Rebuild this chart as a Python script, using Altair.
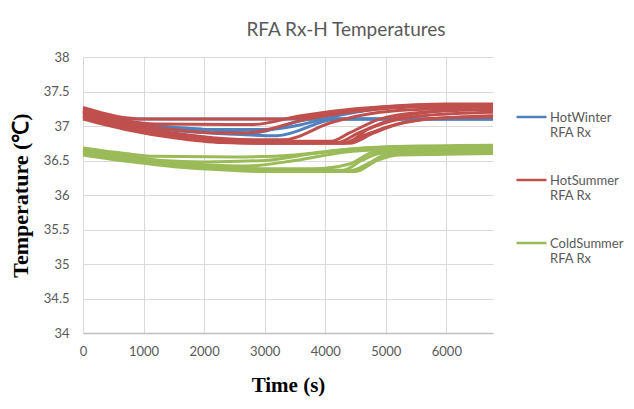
import altair as alt
import pandas as pd

series_names = ["HotWinter RFA Rx", "HotSummer RFA Rx", "ColdSummer RFA Rx"]
series_colors = ["#4F81BD", "#C0504D", "#9BBB59"]

x_ticks = [0, 1000, 2000, 3000, 4000, 5000, 6000]
y_ticks = [34, 34.5, 35, 35.5, 36, 36.5, 37, 37.5, 38]

# HotWinter RFA Rx traces (time s, temperature C)
hot_winter_t = [
    [0, 700, 1000, 3000, 5000, 6770],
    [0, 800, 2000, 2800, 3800, 5000, 6770],
    [0, 900, 2500, 3200, 4200, 5500, 6770],
    [0, 800, 2000, 3000, 4500, 5500, 6770],
]
hot_winter_v = [
    [37.2, 37.11, 37.1, 37.1, 37.1, 37.1],
    [37.21, 37.05, 36.95, 36.9, 37.1, 37.1, 37.1],
    [37.16, 37.0, 36.88, 36.86, 37.1, 37.1, 37.1],
    [37.22, 37.05, 36.95, 36.95, 37.2, 37.3, 37.3],
]

# HotSummer RFA Rx traces
hot_summer_t = [
    [0, 700, 1000, 3300, 4200, 5000, 6000, 6770],
    [0, 700, 1200, 2800, 3600, 4500, 5500, 6770],
    [0, 700, 1500, 2200, 2700, 3700, 4600, 5600, 6770],
    [0, 700, 1500, 2300, 3000, 3300, 4100, 4900, 5800, 6770],
    [0, 700, 1500, 2300, 3000, 4100, 4400, 4900, 5600, 6770],
    [0, 700, 1500, 2300, 3000, 4200, 4550, 5000, 5600, 6770],
    [0, 700, 1500, 2300, 3000, 4300, 4600, 5000, 5700, 6770],
    [0, 700, 1500, 2300, 3000, 4400, 4800, 5300, 6000, 6770],
    [0, 700, 1500, 2300, 3000, 4350, 4700, 5200, 5900, 6770],
]
hot_summer_v = [
    [37.27, 37.12, 37.1, 37.1, 37.2, 37.28, 37.32, 37.32],
    [37.25, 37.08, 37.03, 37.02, 37.15, 37.25, 37.3, 37.31],
    [37.23, 37.05, 36.95, 36.9, 36.9, 37.1, 37.22, 37.28, 37.29],
    [37.2, 37.02, 36.9, 36.82, 36.8, 36.8, 37.05, 37.2, 37.25, 37.27],
    [37.18, 37.0, 36.88, 36.8, 36.78, 36.78, 36.9, 37.1, 37.2, 37.24],
    [37.15, 36.98, 36.86, 36.78, 36.76, 36.76, 36.9, 37.05, 37.15, 37.2],
    [37.12, 36.96, 36.84, 36.77, 36.75, 36.75, 36.85, 36.98, 37.1, 37.15],
    [37.1, 36.95, 36.83, 36.76, 36.75, 36.75, 36.9, 37.05, 37.12, 37.13],
    [37.14, 36.97, 36.85, 36.77, 36.76, 36.76, 36.95, 37.12, 37.22, 37.26],
]

# ColdSummer RFA Rx traces
cold_summer_t = [
    [0, 700, 1200, 2500, 3500, 4200, 5000, 6770],
    [0, 700, 1300, 2000, 3000, 3800, 4500, 5500, 6770],
    [0, 800, 1500, 2000, 2700, 3500, 4300, 5000, 6770],
    [0, 800, 1500, 2200, 3000, 3800, 4400, 4800, 5500, 6770],
    [0, 800, 1500, 2200, 3000, 4300, 4600, 4900, 5500, 6770],
    [0, 800, 1500, 2200, 3000, 4400, 4700, 5000, 5600, 6770],
    [0, 800, 1500, 2200, 3000, 4500, 4850, 5200, 6000, 6770],
]
cold_summer_v = [
    [36.68, 36.6, 36.56, 36.55, 36.58, 36.65, 36.7, 36.72],
    [36.67, 36.57, 36.5, 36.48, 36.5, 36.6, 36.67, 36.7, 36.7],
    [36.65, 36.55, 36.47, 36.44, 36.42, 36.5, 36.62, 36.66, 36.68],
    [36.64, 36.53, 36.45, 36.41, 36.38, 36.38, 36.45, 36.62, 36.66, 36.66],
    [36.62, 36.51, 36.43, 36.39, 36.37, 36.36, 36.5, 36.6, 36.63, 36.64],
    [36.6, 36.5, 36.42, 36.38, 36.35, 36.35, 36.45, 36.58, 36.6, 36.61],
    [36.58, 36.48, 36.41, 36.37, 36.34, 36.34, 36.5, 36.58, 36.59, 36.6],
]

all_t = [hot_winter_t, hot_summer_t, cold_summer_t]
all_v = [hot_winter_v, hot_summer_v, cold_summer_v]

rows = []
for name, ts, vs in zip(series_names, all_t, all_v):
    for k, (tt, vv) in enumerate(zip(ts, vs)):
        for i, (t, v) in enumerate(zip(tt, vv)):
            rows.append({"series": name, "trace": f"{name}-{k}", "idx": i, "time": t, "temp": v})
df = pd.DataFrame(rows)

color = alt.Color(
    "series:N",
    scale=alt.Scale(domain=series_names, range=series_colors),
    legend=alt.Legend(
        title=None,
        orient="none",
        legendX=432,
        legendY=48,
        symbolType="M-1,-0.3L1,-0.3",
        symbolSize=900,
        symbolStrokeWidth=2.5,
        labelFont="Lato",
        labelFontSize=13,
        labelColor="#595959",
        labelBaseline="alphabetic",
        labelExpr="[split(datum.label, ' ')[0], 'RFA Rx']",
        rowPadding=28,
        labelOffset=2,
    ),
)

x = alt.X(
    "time:Q",
    scale=alt.Scale(domain=[0, 6770], nice=False, zero=False),
    axis=alt.Axis(
        values=x_ticks,
        format="d",
        title="Time (s)",
        titleFont="Liberation Serif",
        titleFontSize=21,
        titleFontWeight="bold",
        titleColor="#000000",
        titleX=205,
        titleY=52,
        titleBaseline="middle",
        labelFont="Lato",
        labelFontSize=13,
        labelColor="#595959",
        labelPadding=12,
        ticks=False,
        domainColor="#BFBFBF",
        domainWidth=1.5,
        gridColor="#D9D9D9",
        labelFlush=False,
    ),
)
y = alt.Y(
    "temp:Q",
    scale=alt.Scale(domain=[34, 38], nice=False, zero=False),
    axis=alt.Axis(
        values=y_ticks,
        format="~g",
        title="Temperature (\u2103)",
        titleFont="Liberation Serif",
        titleFontSize=22,
        titleFontWeight="bold",
        titleColor="#000000",
        titleX=-63,
        titleY=138,
        titleAngle=-90,
        titleAlign="center",
        titleBaseline="middle",
        labelFont="Lato",
        labelFontSize=13,
        labelColor="#595959",
        labelPadding=14,
        ticks=False,
        domainColor="#D9D9D9",
        gridColor="#D9D9D9",
    ),
)

layers = []
for name in series_names:
    layers.append(
        alt.Chart(df[df.series == name])
        .mark_line(strokeWidth=3, interpolate="monotone")
        .encode(x=x, y=y, color=color, detail="trace:N", order="idx:Q")
    )

chart = (
    alt.layer(*layers)
    .properties(
        width=410,
        height=276,
        title=alt.TitleParams(
            "RFA Rx-H Temperatures",
            font="Lato",
            fontSize=19,
            fontWeight="normal",
            color="#595959",
            dx=58,
            dy=4,
            offset=15,
        ),
        autosize=alt.AutoSizeParams(type="none"),
        padding={"left": 75, "top": 49, "right": 133, "bottom": 68},
    )
    .configure_view(stroke=None)
)

chart.save("out.html", embed_options={"renderer": "svg", "actions": False})
